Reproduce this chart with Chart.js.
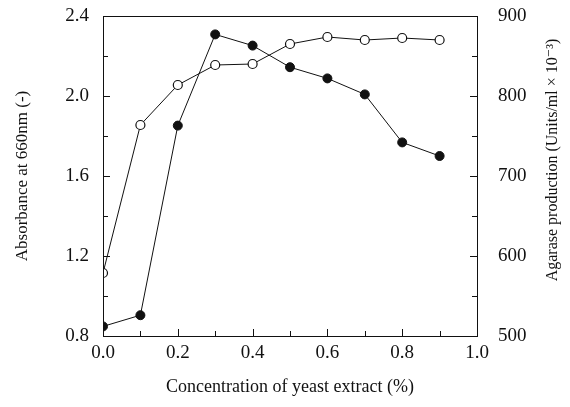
<!DOCTYPE html>
<html>
<head>
<meta charset="utf-8">
<script src="https://cdn.jsdelivr.net/npm/chart.js@4.4.1/dist/chart.umd.min.js"></script>
<style>
  html, body { margin: 0; padding: 0; background: #fff; }
  #wrap { width: 570px; height: 407px; position: relative; }
</style>
</head>
<body>
<div id="wrap"><canvas id="cv"></canvas></div>
<script>
// concentration of yeast extract (%)
const concentration = [0.0, 0.1, 0.2, 0.3, 0.4, 0.5, 0.6, 0.7, 0.8, 0.9];
// absorbance at 660nm (open circles, left axis)
const absorbance = [1.115, 1.855, 2.055, 2.155, 2.16, 2.26, 2.295, 2.28, 2.29, 2.28];
// agarase production, units/ml x 10^-3 (filled circles, right axis)
const agarase = [512, 526, 763, 877, 863, 836, 822, 802, 742, 725];

const rightTitle = "Agarase production (Units/ml × 10⁻³)";

const FONT = "'Liberation Serif', 'DejaVu Serif', serif";
const INK = "#111";

function pts(ys) {
  return concentration.map((x, i) => ({ x, y: ys[i] }));
}

// frame, inward ticks (major and minor) and the right title read bottom-to-top
const frameTicks = {
  id: "frameTicks",
  afterDatasetsDraw(chart) {
    const { ctx, chartArea: a, scales } = chart;
    ctx.save();
    ctx.strokeStyle = INK;
    ctx.lineWidth = 1;
    ctx.strokeRect(a.left + 0.5, a.top + 0.5, a.right - a.left, a.bottom - a.top);

    const tick = (x1, y1, x2, y2) => {
      ctx.beginPath();
      ctx.moveTo(x1, y1);
      ctx.lineTo(x2, y2);
      ctx.stroke();
    };
    // x axis: every 0.1, major at 0.2
    for (let i = 0; i <= 10; i++) {
      const px = Math.round(scales.x.getPixelForValue(i / 10)) + 0.5;
      const len = i % 2 === 0 ? 7 : 5;
      tick(px, a.bottom, px, a.bottom - len);
    }
    // left: every 0.2, major at 0.4
    for (let i = 0; i <= 8; i++) {
      const py = Math.round(scales.y.getPixelForValue(0.8 + i * 0.2)) + 0.5;
      const len = i % 2 === 0 ? 7 : 5;
      tick(a.left, py, a.left + len, py);
    }
    // right: every 50, major at 100
    for (let i = 0; i <= 8; i++) {
      const py = Math.round(scales.y2.getPixelForValue(500 + i * 50)) + 0.5;
      const len = i % 2 === 0 ? 7 : 5;
      tick(a.right, py, a.right - len, py);
    }

    ctx.translate(553, 160);
    ctx.rotate(-Math.PI / 2);
    ctx.fillStyle = INK;
    ctx.font = "16px " + FONT;
    ctx.textAlign = "center";
    ctx.textBaseline = "middle";
    ctx.fillText(rightTitle, 0, 0);
    ctx.restore();
  }
};

const tickFont = { family: FONT, size: 19 };

new Chart(document.getElementById("cv"), {
  type: "line",
  data: {
    datasets: [
      {
        label: "Absorbance",
        data: pts(absorbance),
        yAxisID: "y",
        borderColor: INK,
        borderWidth: 1,
        pointRadius: 4.5,
        pointBackgroundColor: "#fff",
        pointBorderColor: INK,
        pointBorderWidth: 1.2,
        tension: 0
      },
      {
        label: "Agarase",
        data: pts(agarase),
        yAxisID: "y2",
        borderColor: INK,
        borderWidth: 1,
        pointRadius: 4.5,
        pointBackgroundColor: INK,
        pointBorderColor: INK,
        pointBorderWidth: 1,
        tension: 0
      }
    ]
  },
  options: {
    responsive: true,
    maintainAspectRatio: false,
    animation: false,
    layout: { padding: { top: 16, left: 0, right: 0, bottom: 0 } },
    plugins: { legend: { display: false }, tooltip: { enabled: false } },
    scales: {
      x: {
        type: "linear",
        min: 0,
        max: 1.0,
        afterFit: (s) => { s.height = 71; s.paddingLeft = 0; s.paddingRight = 0; },
        grid: { display: false, drawTicks: false },
        border: { display: false },
        ticks: {
          stepSize: 0.2,
          color: INK,
          font: tickFont,
          padding: 6,
          maxRotation: 0,
          callback: (v) => Number(v).toFixed(1)
        },
        title: {
          display: true,
          text: "Concentration of yeast extract (%)",
          color: INK,
          font: { family: FONT, size: 18 },
          padding: { top: 0, bottom: 9 }
        }
      },
      y: {
        position: "left",
        min: 0.8,
        max: 2.4,
        afterFit: (s) => { s.width = 103; s.paddingTop = 0; s.paddingBottom = 0; },
        grid: { display: false, drawTicks: false },
        border: { display: false },
        ticks: {
          stepSize: 0.4,
          color: INK,
          font: tickFont,
          padding: 14,
          callback: (v) => Number(v).toFixed(1)
        },
        title: {
          display: true,
          text: "Absorbance at 660nm (-)",
          color: INK,
          font: { family: FONT, size: 17 },
          padding: { top: 12, bottom: 0 }
        }
      },
      y2: {
        position: "right",
        min: 500,
        max: 900,
        afterFit: (s) => { s.width = 93; s.paddingTop = 0; s.paddingBottom = 0; },
        grid: { display: false, drawTicks: false },
        border: { display: false },
        ticks: {
          stepSize: 100,
          color: INK,
          font: tickFont,
          padding: 21
        },
        title: { display: false }
      }
    }
  },
  plugins: [frameTicks]
});
</script>
</body>
</html>
